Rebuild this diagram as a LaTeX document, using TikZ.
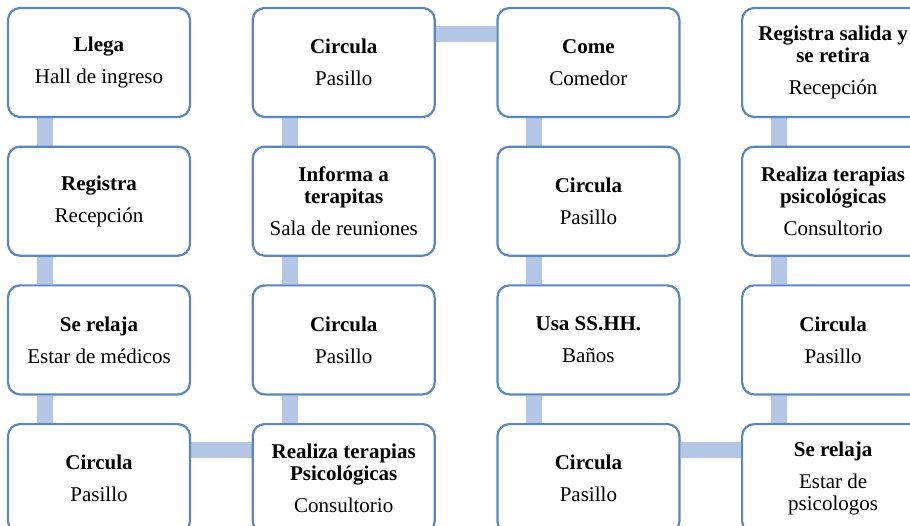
\documentclass[tikz,border=0pt]{standalone}
\usepackage{fontspec}
\setmainfont{Liberation Serif}
\usepackage{tikz}
\usetikzlibrary{positioning,backgrounds}
\definecolor{boxline}{HTML}{5A87C0}
\definecolor{barfill}{HTML}{B4C7E7}

\begin{document}
\begin{tikzpicture}[font=\fontsize{21}{22}\selectfont,
  box/.style={draw=boxline,line width=2.2pt,rounded corners=12pt,fill=white,align=center,
    minimum width=182pt,minimum height=109pt,inner sep=2pt},
  bar/.style={barfill,line width=16pt}]
\path[use as bounding box,clip] (0,0) rectangle (910pt,-526pt);
% first column, downwards
\node[box] (n1) at (99pt,-62.5pt) {\textbf{Llega}\\[10pt]Hall de ingreso};
\node[box,below=27.5pt of n1] (n2) {\textbf{Registra}\\[10pt]Recepción};
\node[box,below=27.5pt of n2] (n3) {\textbf{Se relaja}\\[10pt]Estar de médicos};
\node[box,below=27.5pt of n3] (n4) {\textbf{Circula}\\[10pt]Pasillo};
% second column, upwards
\node[box,right=60.5pt of n4] (n5) {\textbf{Realiza terapias}\\\textbf{Psicológicas}\\[10pt]Consultorio};
\node[box,above=27.5pt of n5] (n6) {\textbf{Circula}\\[10pt]Pasillo};
\node[box,above=27.5pt of n6] (n7) {\textbf{Informa a}\\\textbf{terapitas}\\[10pt]Sala de reuniones};
\node[box,above=27.5pt of n7] (n8) {\textbf{Circula}\\[10pt]Pasillo};
% third column, downwards
\node[box,right=60.5pt of n8] (n9) {\textbf{Come}\\[10pt]Comedor};
\node[box,below=27.5pt of n9] (n10) {\textbf{Circula}\\[10pt]Pasillo};
\node[box,below=27.5pt of n10] (n11) {\textbf{Usa SS.HH.}\\[10pt]Baños};
\node[box,below=27.5pt of n11] (n12) {\textbf{Circula}\\[10pt]Pasillo};
% fourth column, upwards
\node[box,right=60.5pt of n12] (n13) {\textbf{Se relaja}\\[10pt]Estar de\\psicologos};
\node[box,above=27.5pt of n13] (n14) {\textbf{Circula}\\[10pt]Pasillo};
\node[box,above=27.5pt of n14] (n15) {\textbf{Realiza terapias}\\\textbf{psicológicas}\\[10pt]Consultorio};
\node[box,above=27.5pt of n15] (n16) {\textbf{Registra salida y}\\\textbf{se retira}\\[10pt]Recepción};
\begin{scope}[on background layer]
\draw[bar] ([xshift=38pt]n1.south west) -- ([xshift=38pt]n2.north west);
\draw[bar] ([xshift=38pt]n2.south west) -- ([xshift=38pt]n3.north west);
\draw[bar] ([xshift=38pt]n3.south west) -- ([xshift=38pt]n4.north west);
\draw[bar] ([yshift=-27pt]n4.north east) -- ([yshift=-27pt]n5.north west);
\draw[bar] ([xshift=38pt]n5.north west) -- ([xshift=38pt]n6.south west);
\draw[bar] ([xshift=38pt]n6.north west) -- ([xshift=38pt]n7.south west);
\draw[bar] ([xshift=38pt]n7.north west) -- ([xshift=38pt]n8.south west);
\draw[bar] ([yshift=-27pt]n8.north east) -- ([yshift=-27pt]n9.north west);
\draw[bar] ([xshift=38pt]n9.south west) -- ([xshift=38pt]n10.north west);
\draw[bar] ([xshift=38pt]n10.south west) -- ([xshift=38pt]n11.north west);
\draw[bar] ([xshift=38pt]n11.south west) -- ([xshift=38pt]n12.north west);
\draw[bar] ([yshift=-27pt]n12.north east) -- ([yshift=-27pt]n13.north west);
\draw[bar] ([xshift=38pt]n13.north west) -- ([xshift=38pt]n14.south west);
\draw[bar] ([xshift=38pt]n14.north west) -- ([xshift=38pt]n15.south west);
\draw[bar] ([xshift=38pt]n15.north west) -- ([xshift=38pt]n16.south west);
\end{scope}
\end{tikzpicture}
\end{document}
